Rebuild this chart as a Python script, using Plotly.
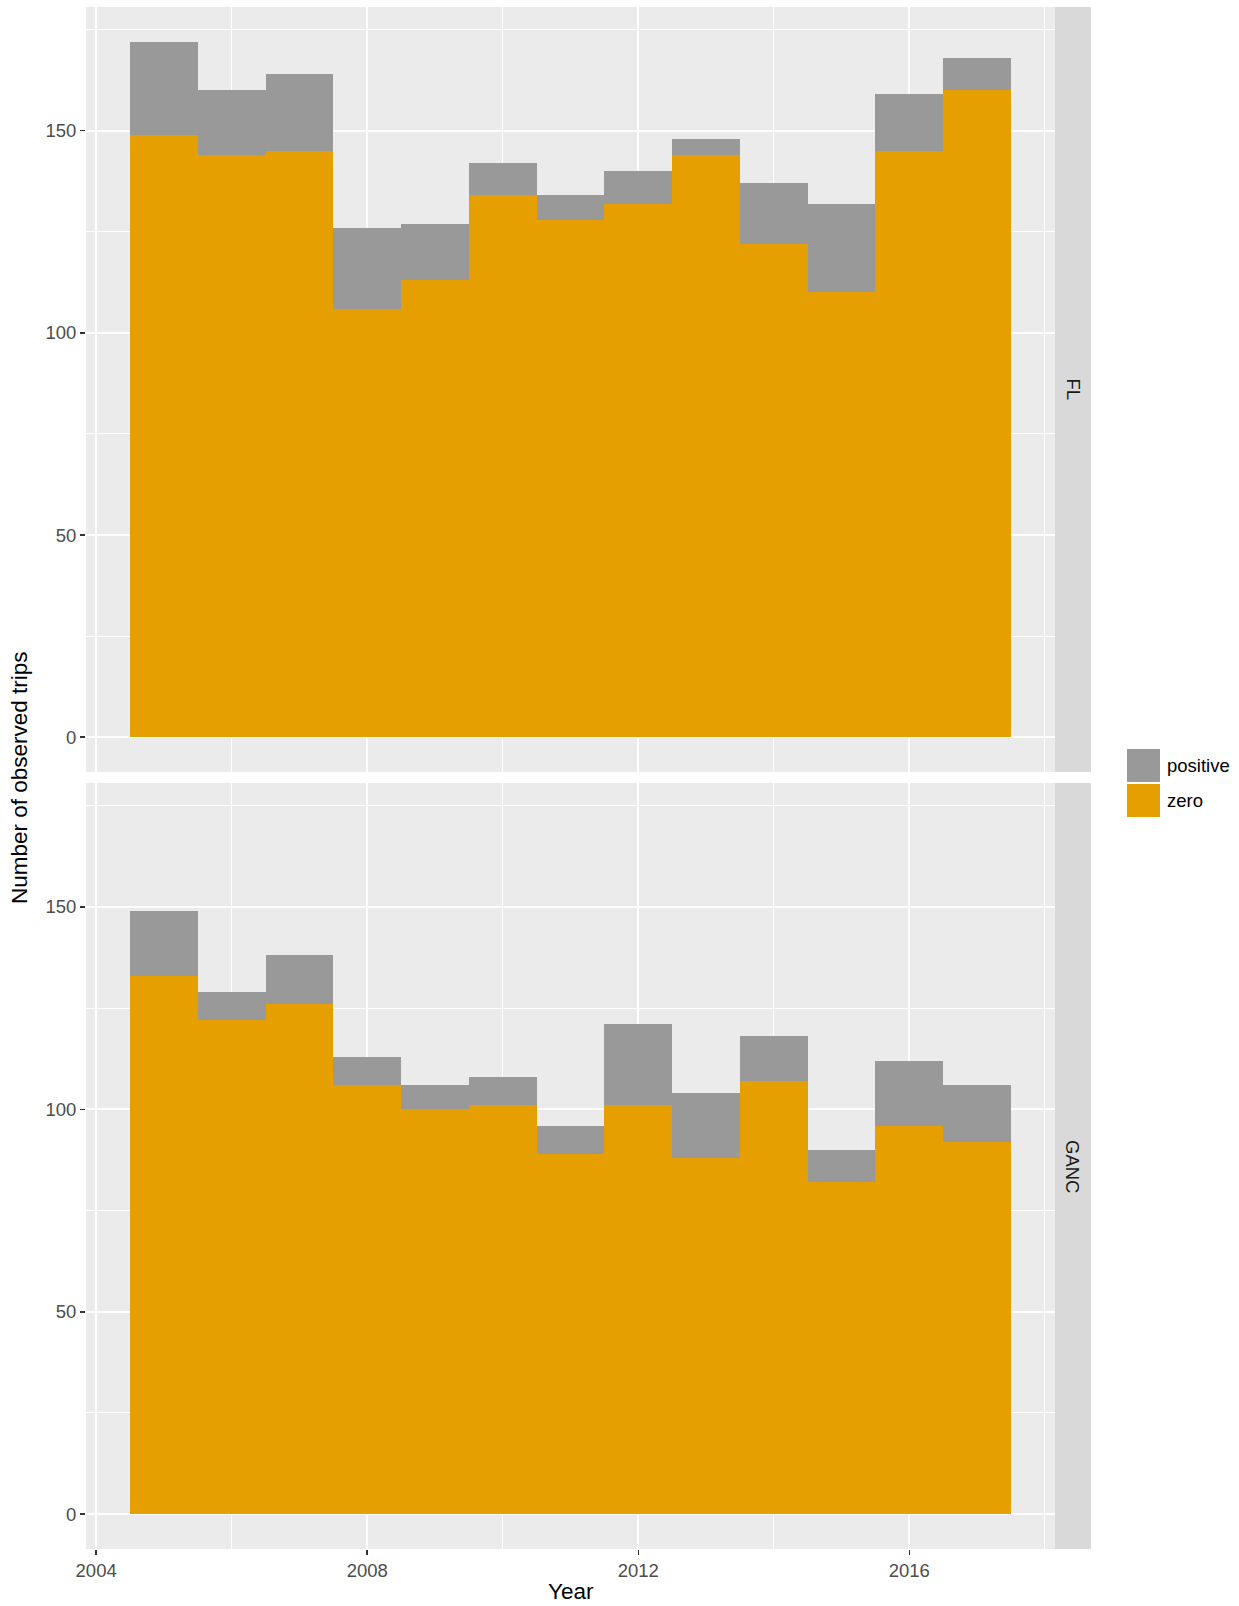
import plotly.graph_objects as go

years = [2005, 2006, 2007, 2008, 2009, 2010, 2011, 2012, 2013, 2014, 2015, 2016, 2017]

fl_zero = [149, 144, 145, 106, 113, 134, 128, 132, 144, 122, 110, 145, 160]
fl_positive = [23, 16, 19, 20, 14, 8, 6, 8, 4, 15, 22, 14, 8]

ganc_zero = [133, 122, 126, 106, 100, 101, 89, 101, 88, 107, 82, 96, 92]
ganc_positive = [16, 7, 12, 7, 6, 7, 7, 20, 16, 11, 8, 16, 14]

panels = ["FL", "GANC"]
categories = ["positive", "zero"]
colors = {"positive": "#999999", "zero": "#E69F00"}

W, H = 1239, 1606
FONT = "Liberation Sans, Arial, sans-serif"
TICK_SIZE = 18.5
TITLE_SIZE = 22.5

def px(x):
    return x / W

def py(y):
    return 1 - y / H

xdom = [px(86), px(1055)]
top_dom = [py(772), py(7)]
bot_dom = [py(1549), py(783)]

fig = go.Figure()

data = [
    ("x", "y", fl_zero, fl_positive),
    ("x2", "y2", ganc_zero, ganc_positive),
]
for xa, ya, z, p in data:
    fig.add_trace(go.Bar(x=years, y=z, width=1, marker=dict(color=colors["zero"], line=dict(width=0)),
                         name="zero", xaxis=xa, yaxis=ya, showlegend=False))
    fig.add_trace(go.Bar(x=years, y=p, width=1, marker=dict(color=colors["positive"], line=dict(width=0)),
                         name="positive", xaxis=xa, yaxis=ya, showlegend=False))

xrange = [2003.85, 2018.15]
yrange = [-8.6, 180.6]

common_x = dict(range=xrange, tickmode="linear", tick0=2004, dtick=4,
                showgrid=True, gridcolor="white", gridwidth=2,
                minor=dict(tickmode="linear", tick0=2004, dtick=2, showgrid=True, gridcolor="white", gridwidth=1),
                zeroline=False, showline=False, fixedrange=True, automargin=False,
                tickfont=dict(family=FONT, size=TICK_SIZE, color="#4D4D4D"))
common_y = dict(range=yrange, tickmode="linear", tick0=0, dtick=50,
                showgrid=True, gridcolor="white", gridwidth=2,
                minor=dict(tickmode="linear", tick0=0, dtick=25, showgrid=True, gridcolor="white", gridwidth=1),
                zeroline=False, showline=False, fixedrange=True, automargin=False,
                ticks="outside", ticklen=5, tickwidth=1.5, tickcolor="#333333",
                tickfont=dict(family=FONT, size=TICK_SIZE, color="#4D4D4D"))

fig.update_layout(
    width=W, height=H,
    margin=dict(l=0, r=0, t=0, b=0),
    paper_bgcolor="white",
    plot_bgcolor="#EBEBEB",
    barmode="stack",
    bargap=0,
    showlegend=False,
    font=dict(family=FONT),
    xaxis=dict(domain=xdom, anchor="y", showticklabels=False, ticks="", **common_x),
    yaxis=dict(domain=top_dom, anchor="x", **common_y),
    xaxis2=dict(domain=xdom, anchor="y2", showticklabels=True, ticks="outside", ticklen=5,
                tickwidth=1.5, tickcolor="#333333", **common_x),
    yaxis2=dict(domain=bot_dom, anchor="x2", **common_y),
)

shapes = []
annotations = []

# strips
for label, (y0, y1) in zip(panels, [(7, 772), (783, 1549)]):
    shapes.append(dict(type="rect", xref="paper", yref="paper", x0=px(1055), x1=px(1091),
                       y0=py(y1), y1=py(y0), fillcolor="#D9D9D9", line=dict(width=0), layer="below"))
    annotations.append(dict(text=label, xref="paper", yref="paper", x=px(1073), y=py((y0 + y1) / 2),
                            showarrow=False, textangle=90, xanchor="center", yanchor="middle",
                            font=dict(family=FONT, size=TICK_SIZE, color="#1A1A1A")))

# legend
legend_rows = [("positive", 749, 782), ("zero", 784, 817)]
for cat, y0, y1 in legend_rows:
    shapes.append(dict(type="rect", xref="paper", yref="paper", x0=px(1127), x1=px(1160),
                       y0=py(y1), y1=py(y0), fillcolor=colors[cat], line=dict(width=0)))
    annotations.append(dict(text=cat, xref="paper", yref="paper", x=px(1165), y=py((y0 + y1) / 2),
                            showarrow=False, xanchor="left", yanchor="middle",
                            font=dict(family=FONT, size=TICK_SIZE, color="black")))

# axis titles
annotations.append(dict(text="Year", xref="paper", yref="paper", x=px(570.5), y=py(1591),
                        showarrow=False, xanchor="center", yanchor="middle",
                        font=dict(family=FONT, size=TITLE_SIZE, color="black")))
annotations.append(dict(text="Number of observed trips", xref="paper", yref="paper", x=px(20), y=py(778),
                        showarrow=False, textangle=-90, xanchor="center", yanchor="middle",
                        font=dict(family=FONT, size=TITLE_SIZE, color="black")))

fig.update_layout(shapes=shapes, annotations=annotations)

fig.write_html("out.html",
               config={"displayModeBar": False, "staticPlot": True},
               post_script="document.body.style.margin='0px';document.body.style.padding='0px';document.body.style.overflow='hidden';")
